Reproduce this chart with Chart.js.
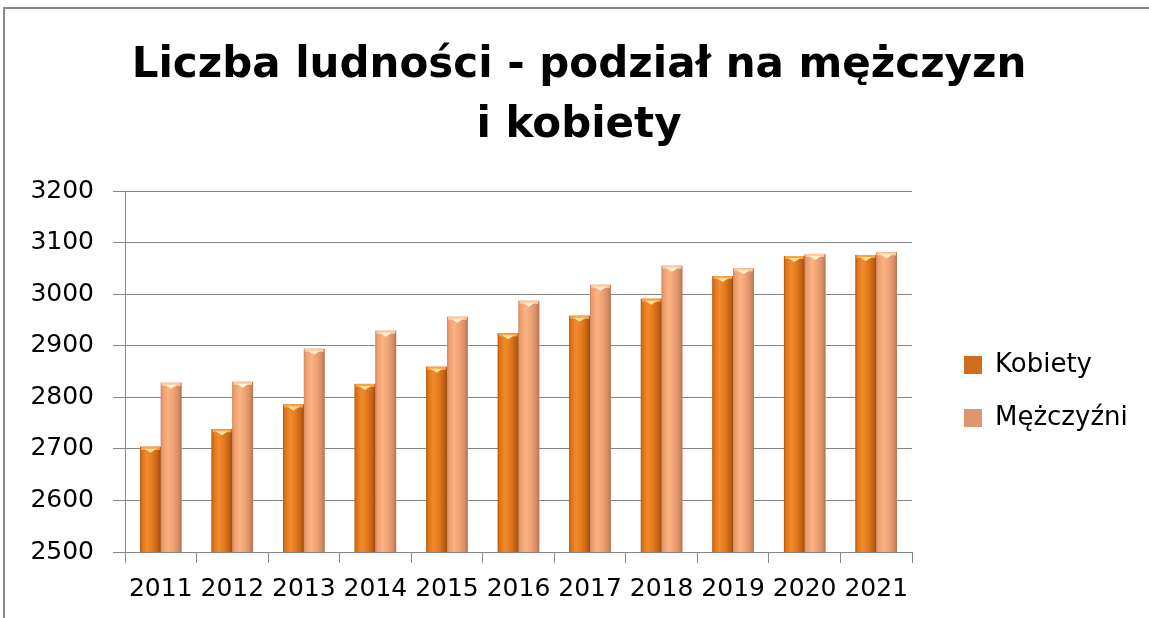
<!DOCTYPE html>
<html>
<head>
<meta charset="utf-8">
<script src="https://cdn.jsdelivr.net/npm/chart.js@4/dist/chart.umd.min.js"></script>
<style>
  html, body { margin: 0; padding: 0; background: #fff; width: 1149px; height: 618px; overflow: hidden; }
  #frame { position: absolute; left: 3px; top: 7px; width: 1200px; height: 700px; border: 2px solid #888; box-sizing: border-box; }
  #wrap { position: absolute; left: 0; top: 0; width: 1149px; height: 618px; }
</style>
</head>
<body>
<div id="frame"></div>
<div id="wrap"><canvas id="c" width="1149" height="618"></canvas></div>
<script>
const categories = ['2011','2012','2013','2014','2015','2016','2017','2018','2019','2020','2021'];
const kobiety    = [2704, 2738, 2786, 2826, 2859, 2924, 2958, 2991, 3035, 3074, 3076];
const mezczyzni  = [2828, 2830, 2894, 2929, 2956, 2987, 3018, 3055, 3050, 3078, 3081];
const seriesNames = ['Kobiety', 'Mężczyźni'];
const titleLines = ['Liczba ludności - podział na mężczyzn', 'i kobiety'];
const yMin = 2500, yMax = 3200, yStep = 100;

const GRID = '#858585';
const FONT = 'DejaVu Sans';

const palettes = [
  { base: '#D06C1A', stops: [[0,'#B8590E'],[0.1,'#DC741B'],[0.35,'#F48B2A'],[0.6,'#E27A20'],[0.85,'#C46213'],[1,'#9C4C0C']], cap: '#F7A548', hi: '#FFE39A' },
  { base: '#DE9670', stops: [[0,'#CF8A60'],[0.1,'#EC9E70'],[0.35,'#FCB282'],[0.6,'#F0A374'],[0.85,'#D58E66'],[1,'#B57352']], cap: '#FCC9A0', hi: '#FFF3D2' }
];

const barStyler = {
  id: 'barStyler',
  afterDatasetsDraw(chart) {
    const ctx = chart.ctx;
    const ca = chart.chartArea;
    chart.data.datasets.forEach((ds, di) => {
      const meta = chart.getDatasetMeta(di);
      const pal = palettes[di];
      meta.data.forEach(el => {
        const p = el.getProps(['x','y','base','width'], true);
        const l = p.x - p.width / 2, r = p.x + p.width / 2;
        const top = Math.max(Math.min(p.y, p.base), ca.top);
        const bot = Math.min(Math.max(p.y, p.base), ca.bottom);
        ctx.save();
        const g = ctx.createLinearGradient(l, 0, r, 0);
        pal.stops.forEach(s => g.addColorStop(s[0], s[1]));
        ctx.fillStyle = g;
        ctx.fillRect(l, top, p.width, bot - top);
        ctx.fillStyle = pal.cap;
        ctx.fillRect(l + 1, top, p.width - 2, 3);
        ctx.fillStyle = pal.hi;
        ctx.beginPath();
        ctx.moveTo(p.x - p.width * 0.3, top + 2);
        ctx.lineTo(p.x + p.width * 0.3, top + 2);
        ctx.lineTo(p.x, top + 6);
        ctx.closePath();
        ctx.fill();
        ctx.restore();
      });
    });
  }
};

const layoutTweak = {
  id: 'layoutTweak',
  afterLayout(chart) {
    const lg = chart.legend;
    if (!lg) return;
    const w = lg.right - lg.left;
    lg.left = 937; lg.right = 937 + w;
    lg.top = chart.chartArea.top; lg.bottom = chart.chartArea.top + 401;
  }
};

new Chart(document.getElementById('c'), {
  type: 'bar',
  data: {
    labels: categories,
    datasets: [
      { label: seriesNames[0], data: kobiety, backgroundColor: palettes[0].base, borderWidth: 0 },
      { label: seriesNames[1], data: mezczyzni, backgroundColor: palettes[1].base, borderWidth: 0 }
    ]
  },
  plugins: [barStyler, layoutTweak],
  options: {
    responsive: false,
    animation: false,
    devicePixelRatio: 1,
    layout: { padding: { left: 9, right: 0, top: 0, bottom: 14 } },
    datasets: { bar: { categoryPercentage: 0.58, barPercentage: 1.0 } },
    plugins: {
      tooltip: { enabled: false },
      title: {
        display: true,
        text: titleLines,
        color: '#000',
        font: { family: FONT, size: 42, weight: 'bold', lineHeight: 60/42 },
        padding: { top: 36, bottom: 35 }
      },
      legend: {
        display: true,
        position: 'right',
        fullSize: false,
        labels: {
          color: '#000',
          font: { family: FONT, size: 26 },
          boxWidth: 18, boxHeight: 18,
          padding: 27
        }
      }
    },
    scales: {
      x: {
        afterFit(s) { s.height = 52; },
        grid: { display: true, drawOnChartArea: false, drawTicks: true, tickLength: 11, color: GRID, offset: true },
        border: { display: true, color: GRID, width: 1 },
        ticks: { color: '#000', font: { family: FONT, size: 25 }, padding: 11, maxRotation: 0, autoSkip: false }
      },
      y: {
        min: yMin, max: yMax,
        afterFit(s) { s.width = 116; },
        grid: { color: GRID, tickLength: 12, lineWidth: 1 },
        border: { display: true, color: GRID, width: 1 },
        ticks: { stepSize: yStep, color: '#000', font: { family: FONT, size: 25 }, padding: 19,
                 callback: v => String(v) }
      },
      y2: {
        position: 'right',
        display: true,
        afterFit(s) { s.width = 47; },
        grid: { display: false, drawTicks: false },
        border: { display: false },
        ticks: { display: false }
      }
    }
  }
});
</script>
</body>
</html>
